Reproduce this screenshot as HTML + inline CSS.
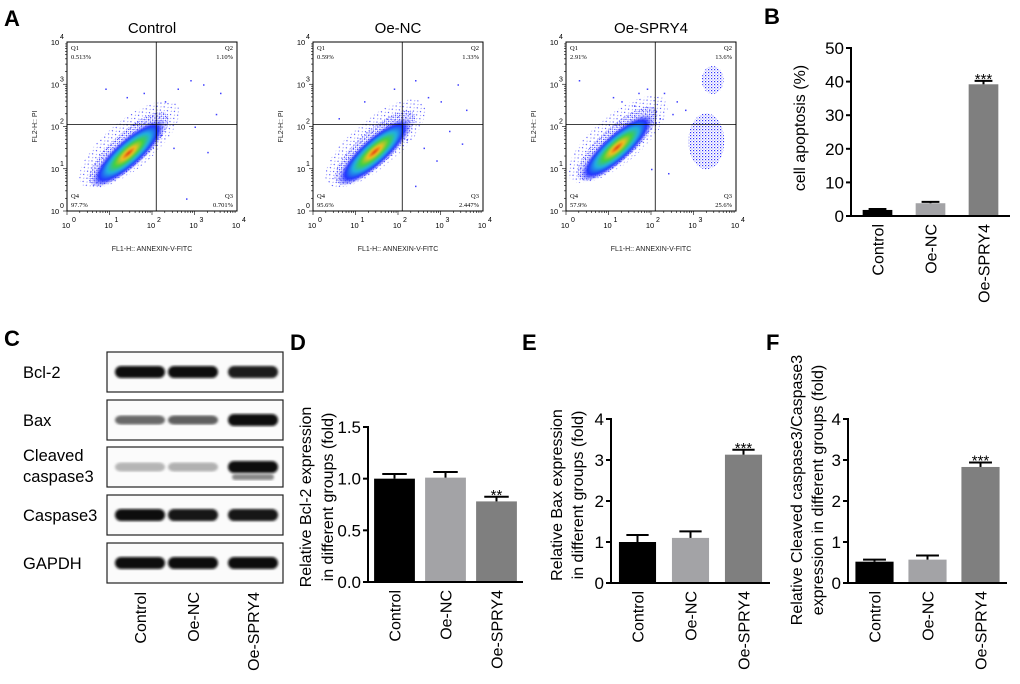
<!DOCTYPE html>
<html><head><meta charset="utf-8"><style>
html,body{margin:0;padding:0;background:#fff}
svg{display:block;font-family:"Liberation Sans",Arial,sans-serif}
</style></head><body>
<svg id="fig" width="1020" height="684" viewBox="0 0 1020 684" xmlns="http://www.w3.org/2000/svg">
<defs>
<pattern id="dots" width="3" height="3" patternUnits="userSpaceOnUse"><rect x="0" y="0" width="1.2" height="1.2" fill="#3030ff"/><rect x="1.5" y="1.6" width="1" height="1" fill="#8080ff"/></pattern>
<pattern id="sdots" width="5" height="5" patternUnits="userSpaceOnUse"><rect x="0" y="0" width="1.1" height="1.1" fill="#4040ff"/><rect x="2.7" y="3" width="1" height="1" fill="#9090ff"/></pattern>
<radialGradient id="dens" cx="0.5" cy="0.5" r="0.5">
<stop offset="0" stop-color="#e03010"/><stop offset="0.18" stop-color="#f0c020"/><stop offset="0.38" stop-color="#40d040"/><stop offset="0.58" stop-color="#20b0e0"/><stop offset="0.8" stop-color="#2030ff"/><stop offset="1" stop-color="#6060ff" stop-opacity="0"/>
</radialGradient>
<filter id="blur"><feGaussianBlur stdDeviation="1.4"/></filter>
<filter id="blur2"><feGaussianBlur stdDeviation="0.8"/></filter>
</defs>
<g id="letters" font-weight="bold" font-size="22">
<text x="4" y="26">A</text>
<text x="764" y="24">B</text>
<text x="4" y="346">C</text>
<text x="290" y="350">D</text>
<text x="522" y="350">E</text>
<text x="766" y="350">F</text>
</g>
<g id="flow"></g>
<g id="blot"></g>
<g id="bars"></g>
</svg>
<script>
const NS="http://www.w3.org/2000/svg";
function el(tag,attrs,parent,text){const e=document.createElementNS(NS,tag);for(const k in attrs)e.setAttribute(k,attrs[k]);if(text!==undefined)e.textContent=text;(parent||document.getElementById('fig')).appendChild(e);return e;}

// ---------- Panel A: flow cytometry ----------
const flowTitles=["Control","Oe-NC","Oe-SPRY4"];
const flowQ1=["0.513%","0.59%","2.91%"];
const flowQ2=["1.10%","1.33%","13.6%"];
const flowQ3=["0.701%","2.447%","25.6%"];
const flowQ4=["97.7%","95.6%","57.9%"];
const flowBoxX=[67,313,566];
const popX=[1.45,1.45,1.2];
const popY=[1.37,1.4,1.5];
const extraClusters=[[],[],[[3.3,1.65,18,28],[3.45,3.1,11,14]]];
const sparseX=[[0.9,1.4,1.8,2.3,2.6,2.9,3.2,3.5,3.6,2.2,2.5,3.0,3.3,2.8],[0.6,1.2,1.9,2.4,2.7,3.0,3.4,3.6,2.2,2.6,3.2,2.9,3.5,2.4],[0.3,1.1,1.6,1.9,2.3,2.6,2.8,2.1,2.5,1.7,1.3,2.0,2.4,2.2]];
const sparseY=[[2.9,2.7,2.8,2.6,2.9,3.1,3.0,2.3,2.8,1.8,1.5,2.0,1.4,0.3],[2.2,2.6,2.9,3.1,2.7,2.6,3.0,2.4,1.7,1.5,1.9,1.2,1.6,0.6],[3.1,2.7,2.5,2.9,2.8,2.6,2.4,2.1,2.3,2.8,2.6,1.0,0.9,2.2]];

const fg=document.getElementById('flow');
flowTitles.forEach((t,i)=>{
  const x0=flowBoxX[i],y0=42,w=170,h=169,dec=w/4,decY=h/4;
  const px=v=>x0+v*dec, py=v=>y0+h-v*decY;
  const g=el('g',{},fg);
  
  
  const tt=el('text',{x:x0+w/2,y:33,'text-anchor':'middle','font-size':15},g,t);
  
  const cx=px(popX[i]),cy=py(popY[i]);
  el('ellipse',{cx:cx+6,cy:cy-6,rx:62,ry:24,fill:'url(#sdots)',transform:`rotate(-40 ${cx} ${cy})`},g);
  el('ellipse',{cx:cx+3,cy:cy-3,rx:52,ry:17,fill:'url(#dots)',transform:`rotate(-42 ${cx} ${cy})`},g);
  const blob=el('ellipse',{cx:cx,cy:cy,rx:48,ry:14,fill:'url(#dens)',transform:`rotate(-42 ${cx} ${cy})`,filter:'url(#blur2)'},g);
  
  extraClusters[i].forEach(c=>{
    const e=el('ellipse',{cx:px(c[0]),cy:py(c[1]),rx:c[2],ry:c[3],fill:'url(#dots)'},g);
    
  });
  sparseX[i].forEach((v,k)=>{el('rect',{x:px(v),y:py(sparseY[i][k]),width:1.5,height:1.5,fill:'#4040ff'},g);});
  el('rect',{x:x0,y:y0,width:w,height:h,fill:'none',stroke:'#000','stroke-width':1},g);
  const qx=px(2.1),qy=py(2.05);
  el('line',{x1:qx,y1:y0,x2:qx,y2:y0+h,stroke:'#000','stroke-width':0.8},g);
  el('line',{x1:x0,y1:qy,x2:x0+w,y2:qy,stroke:'#000','stroke-width':0.8},g);
  const qs={'font-size':6.5,'font-family':'Liberation Serif,serif'};
  el('text',Object.assign({x:x0+4,y:y0+8},qs),g,'Q1');
  el('text',Object.assign({x:x0+4,y:y0+17},qs),g,flowQ1[i]);
  el('text',Object.assign({x:x0+w-4,y:y0+8,'text-anchor':'end'},qs),g,'Q2');
  el('text',Object.assign({x:x0+w-4,y:y0+17,'text-anchor':'end'},qs),g,flowQ2[i]);
  el('text',Object.assign({x:x0+4,y:y0+h-13},qs),g,'Q4');
  el('text',Object.assign({x:x0+4,y:y0+h-4},qs),g,flowQ4[i]);
  el('text',Object.assign({x:x0+w-4,y:y0+h-13,'text-anchor':'end'},qs),g,'Q3');
  el('text',Object.assign({x:x0+w-4,y:y0+h-4,'text-anchor':'end'},qs),g,flowQ3[i]);
  for(let d=0;d<=4;d++){
    for(let m=1;m<10&&d<4;m++){const v=d+Math.log10(m);const L=m===1?4:2;
      el('line',{x1:px(v),y1:y0+h,x2:px(v),y2:y0+h+L,stroke:'#000','stroke-width':0.6},g);
      el('line',{x1:x0,y1:py(v),x2:x0-L,y2:py(v),stroke:'#000','stroke-width':0.6},g);}
    el('text',{x:px(d)-1,y:y0+h+17,'text-anchor':'middle','font-size':7.5},g,'10');
    el('text',{x:px(d)+5,y:y0+h+11,'font-size':7},g,''+d);
    el('text',{x:x0-12,y:py(d)+3,'text-anchor':'middle','font-size':7.5},g,'10');
    el('text',{x:x0-7,y:py(d)-3,'font-size':7},g,''+d);
  }
  const xl=el('text',{x:x0+w/2,y:251,'text-anchor':'middle','font-size':7,fill:'#222'},g,'FL1-H:: ANNEXIN-V-FITC');
  
  const yl=el('text',{x:0,y:0,'text-anchor':'middle','font-size':7,fill:'#222',transform:`translate(${x0-30},${y0+h/2}) rotate(-90)`},g,'FL2-H:: PI');
  
});

// ---------- Panel C: western blot ----------
const blotLabels=["Bcl-2","Bax","Cleaved\ncaspase3","Caspase3","GAPDH"];
const blotTops=[352,400,447,495,543];
const blotIntensity=[[1,1,0.9],[0.5,0.55,1],[0.1,0.12,1],[1,0.95,0.95],[1,1,1]];
const lanes=["Control","Oe-NC","Oe-SPRY4"];
const lanesX=[140,193,253];
const bg=document.getElementById('blot');
blotLabels.forEach((lab,r)=>{
  const y=blotTops[r];
  const g=el('g',{},bg);
  
  
  el('rect',{x:107,y:y,width:176,height:40,fill:'#fbfbfb',stroke:'#222','stroke-width':1.2},g);
  lanesX.forEach((lx,k)=>{
    const it=blotIntensity[r][k];
    const c=Math.round(10+(1-it)*190);
    const hh=it>0.8?12:9;
    el('rect',{x:lx-25,y:y+20-hh/2,width:50,height:hh,rx:6,fill:`rgb(${c},${c},${c})`,filter:'url(#blur)'},g);
    if(r===2&&k===2) el('rect',{x:lx-21,y:y+27,width:42,height:6,rx:3,fill:'#888',filter:'url(#blur)'},g);
  });
  const parts=lab.split('\n');
  parts.forEach((p,j)=>el('text',{x:23,y:parts.length>1?y+14+j*21:y+26,'font-size':16.5},g,p));
});
lanes.forEach((l,k)=>{const t=el('text',{x:0,y:0,'text-anchor':'end','font-size':16,transform:`translate(${lanesX[k]+6},${592}) rotate(-90)`},bg,l);
  });

// ---------- Bar charts (B, D, E, F) ----------
const categories=["Control","Oe-NC","Oe-SPRY4"];
const barColors=["#000000","#a3a3a6","#7f7f7f"];
const apoptosisValues=[1.8,3.8,39.2];
const apoptosisErrors=[0.3,0.4,1.0];
const apoptosisTicks=["0","10","20","30","40","50"];
const bcl2Values=[1.0,1.01,0.78];
const bcl2Errors=[0.045,0.055,0.045];
const bcl2Ticks=["0.0","0.5","1.0","1.5"];
const baxValues=[1.0,1.1,3.13];
const baxErrors=[0.17,0.16,0.12];
const baxTicks=["0","1","2","3","4"];
const casValues=[0.52,0.57,2.83];
const casErrors=[0.05,0.1,0.11];
const casTicks=["0","1","2","3","4"];
const stars=["","","***"];
const bcl2Stars=["","","**"];

function barChart(o){
  const g=el('g',{},document.getElementById('bars'));
  
  
  const ys=v=>o.y0-(v/o.max)*(o.y0-o.yTop);
  const band=o.band, xs=i=>o.x0+o.pad+band*(i+0.5);
  const bw=band*o.bwr;
  o.values.forEach((v,i)=>{
    const r=el('rect',{x:xs(i)-bw/2,y:ys(v),width:bw,height:o.y0-ys(v),fill:barColors[i]},g);
    
    
    const top=ys(v+o.errors[i]);
    el('line',{x1:xs(i),y1:ys(v),x2:xs(i),y2:top,stroke:'#000','stroke-width':2},g);
    el('line',{x1:xs(i)-bw*0.3,y1:top,x2:xs(i)+bw*0.3,y2:top,stroke:'#000','stroke-width':2},g);
    if(o.stars[i]){const s=el('text',{x:xs(i),y:top+3,'text-anchor':'middle','font-size':15},g,o.stars[i]);
      }
    const c=el('text',{x:0,y:0,'text-anchor':'end','font-size':16,transform:`translate(${xs(i)+6},${o.y0+8}) rotate(-90)`},g,categories[i]);
    
  });
  el('line',{x1:o.x0,y1:o.yTop-1,x2:o.x0,y2:o.y0+1,stroke:'#000','stroke-width':2},g);
  el('line',{x1:o.x0-1,y1:o.y0,x2:o.x0+o.pad*2+band*3,y2:o.y0,stroke:'#000','stroke-width':2},g);
  o.ticks.forEach((t,k)=>{const v=o.max*k/(o.ticks.length-1);
    el('line',{x1:o.x0-5,y1:ys(v),x2:o.x0,y2:ys(v),stroke:'#000','stroke-width':2},g);
    const tl=el('text',{x:o.x0-7,y:ys(v)+6,'text-anchor':'end','font-size':17},g,t);
    });
  o.title.forEach((line,j)=>{const tt=el('text',{x:0,y:0,'text-anchor':'middle','font-size':16,transform:`translate(${o.titleX[j]},${o.titleY}) rotate(-90)`},g,line);
    });
}
barChart({name:'chart-b-cell-apoptosis',x0:851,pad:0,band:53,bwr:0.56,y0:216,yTop:48,max:50,values:apoptosisValues,errors:apoptosisErrors,ticks:apoptosisTicks,stars:stars,title:["cell apoptosis (%)"],titleX:[805],titleY:128});
barChart({name:'chart-d-bcl2',x0:368,pad:1,band:51,bwr:0.8,y0:582,yTop:427,max:1.5,values:bcl2Values,errors:bcl2Errors,ticks:bcl2Ticks,stars:bcl2Stars,title:["Relative Bcl-2 expression","in different groups (fold)"],titleX:[311,333],titleY:497});
barChart({name:'chart-e-bax',x0:611,pad:0,band:53,bwr:0.7,y0:583,yTop:419,max:4,values:baxValues,errors:baxErrors,ticks:baxTicks,stars:stars,title:["Relative Bax expression","in different groups (fold)"],titleX:[562,583],titleY:495});
barChart({name:'chart-f-cleaved-caspase3',x0:848,pad:0,band:53,bwr:0.72,y0:583,yTop:419,max:4,values:casValues,errors:casErrors,ticks:casTicks,stars:stars,title:["Relative Cleaved caspase3/Caspase3","expression in different groups (fold)"],titleX:[802,823],titleY:490});
</script>
</body></html>
